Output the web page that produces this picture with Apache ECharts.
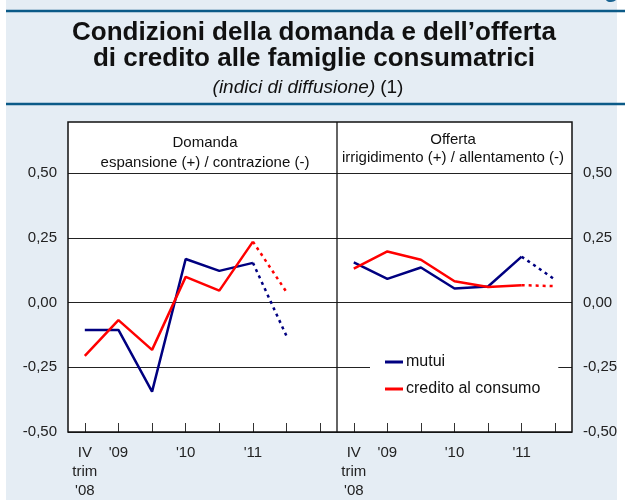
<!DOCTYPE html>
<html>
<head>
<meta charset="utf-8">
<script src="https://cdn.jsdelivr.net/npm/echarts@6/dist/echarts.min.js"></script>
<style>
  html, body { margin: 0; padding: 0; background: #fff; }
  #chart { width: 625px; height: 500px; }
</style>
</head>
<body>
<div id="chart"></div>
<script>
// categorie (semestri) - il pannello domanda ha una colonna in più
const catDomanda = ['IV\ntrim\n\'08', '\'09', '', '\'10', '', '\'11', '', '']
const catOfferta = ['IV\ntrim\n\'08', '\'09', '', '\'10', '', '\'11', '']
const yTicks = [-0.5, -0.25, 0, 0.25, 0.5]

// domanda: valori osservati + previsione (tratteggio)
const domMutui = [-0.106, -0.106, -0.344, 0.168, 0.122, 0.153, null, null]
const domMutuiPrev = [null, null, null, null, null, 0.153, -0.13, null]
const domCredito = [-0.206, -0.068, -0.183, 0.099, 0.046, 0.235, null, null]
const domCreditoPrev = [null, null, null, null, null, 0.235, 0.04, null]

// offerta
const offMutui = [0.155, 0.091, 0.135, 0.054, 0.062, 0.177, null]
const offMutuiPrev = [null, null, null, null, null, 0.177, 0.088]
const offCredito = [0.131, 0.197, 0.165, 0.082, 0.06, 0.067, null]
const offCreditoPrev = [null, null, null, null, null, 0.067, 0.063]

const FONT = 'Liberation Sans, Arial, sans-serif'
const BLU = '#000080'
const ROSSO = '#ff0000'

const chart = echarts.init(document.getElementById('chart'))

function fmt(v) {
  return v.toFixed(2).replace('.', ',')
}

function linea(name, data, color, idx, tratt) {
  return {
    name: name,
    type: 'line',
    xAxisIndex: idx,
    yAxisIndex: idx,
    data: data,
    symbol: 'none',
    connectNulls: false,
    color: color,
    lineStyle: { color: color, width: 2.5, type: tratt ? [3, 4] : 'solid' },
    z: 5
  }
}

function asseX(idx, cats) {
  return {
    type: 'category',
    gridIndex: idx,
    data: cats,
    boundaryGap: true,
    axisLine: { show: false, onZero: false },
    axisTick: { show: true, inside: true, length: 9, alignWithLabel: true, lineStyle: { color: '#333' } },
    axisLabel: { interval: 0, margin: 11, fontSize: 15, lineHeight: 19, color: '#222', fontFamily: FONT }
  }
}

function asseY(idx, pos) {
  return {
    type: 'value',
    gridIndex: idx,
    position: pos,
    min: yTicks[0],
    max: yTicks[yTicks.length - 1],
    interval: 0.25,
    axisLine: { show: false },
    axisTick: { show: false },
    splitLine: { show: true, lineStyle: { color: '#222', width: 1 } },
    axisLabel: { show: true, margin: 11, fontSize: 15, color: '#222', fontFamily: FONT, formatter: fmt }
  }
}

chart.setOption({
  animation: false,
  textStyle: { fontFamily: FONT },
  graphic: [
    { type: 'rect', z: -10, shape: { x: 6, y: 0, width: 611, height: 500 }, style: { fill: '#e5edf4' } },
    { type: 'rect', z: -9, shape: { x: 68, y: 122, width: 504, height: 310 }, style: { fill: '#fff' } },
    { type: 'line', z: 1, shape: { x1: 6, y1: 11, x2: 625, y2: 11 }, style: { stroke: '#0b5a87', lineWidth: 2.5 } },
    { type: 'line', z: 1, shape: { x1: 6, y1: 104, x2: 625, y2: 104 }, style: { stroke: '#0b5a87', lineWidth: 2.5 } },
    { type: 'text', z: 1, left: 604, top: -22, style: { text: 'g', fontSize: 24, fontWeight: 'bold', fill: '#1b6593', fontFamily: FONT } },
    { type: 'rect', z: 100, shape: { x: 68, y: 122, width: 504, height: 310 }, style: { fill: 'none', stroke: '#111', lineWidth: 1.5 } },
    { type: 'line', z: 100, shape: { x1: 337, y1: 122, x2: 337, y2: 432 }, style: { stroke: '#111', lineWidth: 1.3 } }
  ],
  title: [
    {
      text: 'Condizioni della domanda e dell’offerta\ndi credito alle famiglie consumatrici',
      left: 309, top: 15, textAlign: 'center',
      textStyle: { fontSize: 26, fontWeight: 'bold', lineHeight: 26, color: '#111', fontFamily: FONT }
    },
    {
      text: '{i|(indici di diffusione)} {n|(1)}',
      left: 303, top: 73, textAlign: 'center',
      textStyle: {
        fontWeight: 'normal',
        rich: {
          i: { fontSize: 19, fontStyle: 'italic', fontWeight: 'normal', color: '#111', fontFamily: FONT },
          n: { fontSize: 19, fontWeight: 'normal', color: '#111', fontFamily: FONT }
        }
      }
    },
    {
      text: 'Domanda\nespansione (+) / contrazione (-)',
      left: 200, top: 128, textAlign: 'center',
      textStyle: { fontSize: 15, fontWeight: 'normal', lineHeight: 20, color: '#111', fontFamily: FONT }
    },
    {
      text: 'Offerta\nirrigidimento (+) / allentamento (-)',
      left: 448, top: 126, textAlign: 'center',
      textStyle: { fontSize: 15, fontWeight: 'normal', lineHeight: 18, color: '#111', fontFamily: FONT }
    }
  ],
  legend: {
    data: ['mutui', 'credito al consumo'],
    orient: 'vertical',
    left: 370,
    top: 350,
    padding: [4, 18, 4, 15],
    backgroundColor: '#fff',
    icon: 'rect',
    itemWidth: 18,
    itemHeight: 3,
    itemGap: 11,
    textStyle: { fontSize: 16, color: '#111', fontFamily: FONT, padding: [0, 0, 0, -2] }
  },
  grid: [
    { left: 68, top: 173, width: 269, height: 259, containLabel: false },
    { left: 337, top: 173, width: 235, height: 259, containLabel: false }
  ],
  xAxis: [asseX(0, catDomanda), asseX(1, catOfferta)],
  yAxis: [asseY(0, 'left'), asseY(1, 'right')],
  series: [
    linea('mutui', domMutui, BLU, 0, false),
    linea('mutui prev', domMutuiPrev, BLU, 0, true),
    linea('credito al consumo', domCredito, ROSSO, 0, false),
    linea('credito prev', domCreditoPrev, ROSSO, 0, true),
    linea('mutui', offMutui, BLU, 1, false),
    linea('mutui prev', offMutuiPrev, BLU, 1, true),
    linea('credito al consumo', offCredito, ROSSO, 1, false),
    linea('credito prev', offCreditoPrev, ROSSO, 1, true)
  ]
})
</script>
</body>
</html>
